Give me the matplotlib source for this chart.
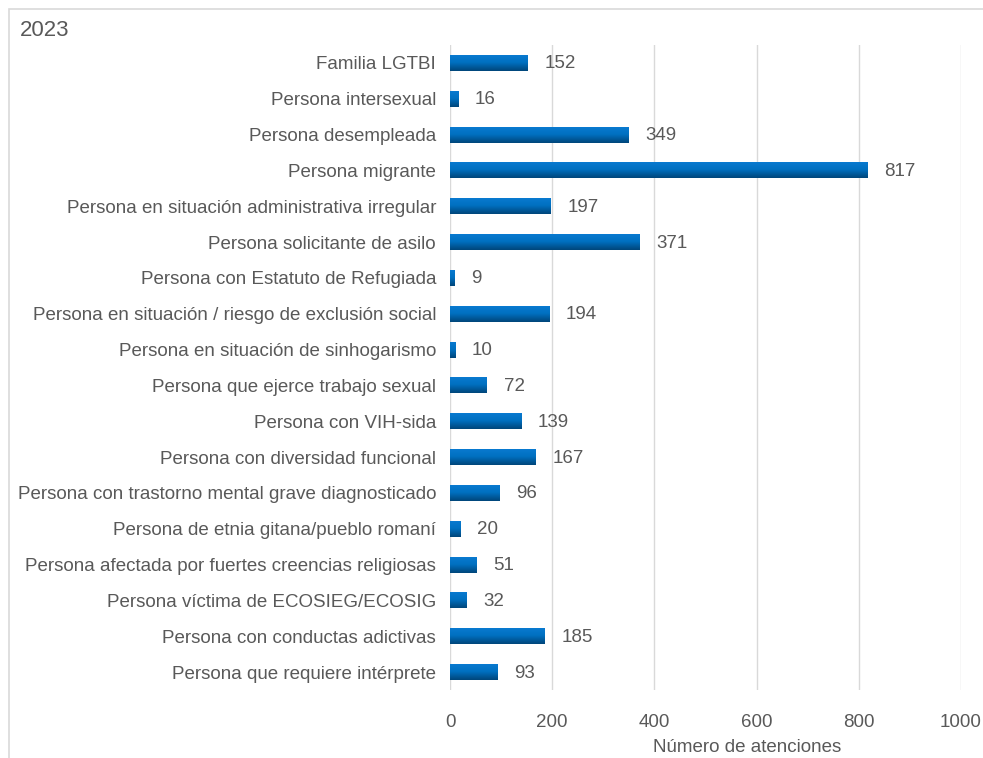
import matplotlib.pyplot as plt
import numpy as np
from matplotlib.colors import LinearSegmentedColormap
from matplotlib.patches import Rectangle

plt.rcParams['font.family'] = ['Liberation Sans', 'DejaVu Sans']

categories = [
    "Familia LGTBI",
    "Persona intersexual",
    "Persona desempleada",
    "Persona migrante",
    "Persona en situación administrativa irregular",
    "Persona solicitante de asilo",
    "Persona con Estatuto de Refugiada",
    "Persona en situación / riesgo de exclusión social",
    "Persona en situación de sinhogarismo",
    "Persona que ejerce trabajo sexual",
    "Persona con VIH-sida",
    "Persona con diversidad funcional",
    "Persona con trastorno mental grave diagnosticado",
    "Persona de etnia gitana/pueblo romaní",
    "Persona afectada por fuertes creencias religiosas",
    "Persona víctima de ECOSIEG/ECOSIG",
    "Persona con conductas adictivas",
    "Persona que requiere intérprete",
]
values = [152, 16, 349, 817, 197, 371, 9, 194, 10, 72, 139, 167, 96, 20, 51, 32, 185, 93]
xticks = [0, 200, 400, 600, 800, 1000]

text_col = "#595959"
fs = 13.5
grad = LinearSegmentedColormap.from_list("g", ["#0A7BD2", "#0070C0", "#00467A"])

fig = plt.figure(figsize=(9.83, 7.58), dpi=100)
ax = fig.add_axes([450 / 983, 1 - 690 / 758, (961 - 450) / 983, (690 - 45) / 758])

n = len(categories)
y = np.arange(n)
h = 0.45
bars = ax.barh(y, values, height=h, color="#0070C0", zorder=2)
g = np.linspace(0, 1, 64).reshape(-1, 1)
for b in bars:
    x0, y0 = b.get_x(), b.get_y()
    w, hh = b.get_width(), b.get_height()
    im = ax.imshow(g, cmap=grad, aspect="auto", extent=[x0, x0 + w, y0 + hh, y0],
                   origin="upper", zorder=3, interpolation="bilinear")
    im.set_clip_path(b)

for yi, v in zip(y, values):
    ax.text(v + 33, yi + 0.03, str(v), va="center", ha="left", fontsize=fs, color=text_col)

ax.set_xlim(0, 1000)
ax.set_ylim(n - 0.5, -0.5)
ax.set_yticks(y)
ax.set_yticklabels(categories, fontsize=fs, color=text_col)
ax.set_xticks(xticks)
ax.set_xticklabels([str(t) for t in xticks], fontsize=fs, color=text_col)
ax.tick_params(axis="both", length=0)
ax.tick_params(axis="y", pad=10)
ax.tick_params(axis="x", pad=17)
ax.grid(axis="x", color="#D9D9D9", linewidth=1, zorder=0)
ax.set_axisbelow(True)
for s in ax.spines.values():
    s.set_visible(False)
ax.set_xlabel("Número de atenciones", fontsize=fs, color=text_col)
ax.xaxis.set_label_coords((747 - 450) / (961 - 450), -(747 - 690) / (690 - 45))
ax.xaxis.label.set_va("center")

fig.text(20 / 983, 1 - 31 / 758, "2023", fontsize=16, color=text_col, va="center", ha="left")
fig.patches.append(Rectangle((9 / 983, -0.1), 1.2, 1 - 9 / 758 + 0.1, transform=fig.transFigure,
                             fill=False, edgecolor="#D9D9D9", linewidth=1.2))

fig.savefig("out.png", dpi=100)
